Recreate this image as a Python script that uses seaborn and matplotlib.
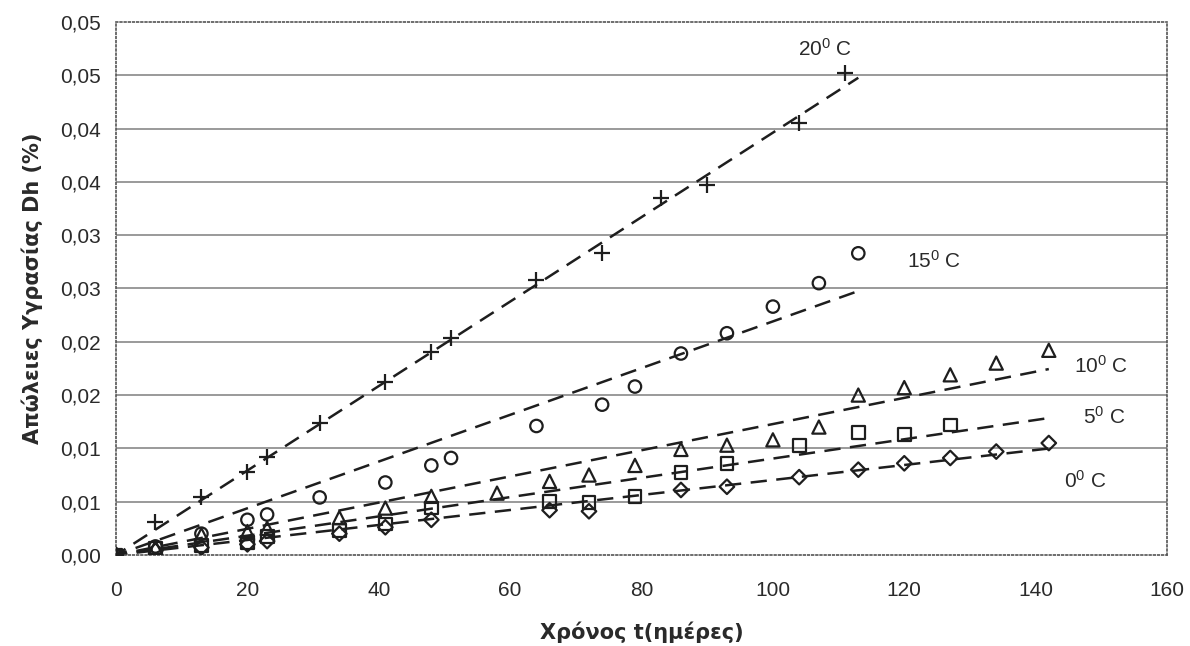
import numpy as np
import pandas as pd
import seaborn as sns
import matplotlib
matplotlib.use("Agg")
import matplotlib.pyplot as plt

# Moisture loss Dh (%) versus storage time, per storage temperature
t_0c = [0, 6, 13, 20, 23, 34, 41, 48, 66, 72, 86, 93, 104, 113, 120, 127, 134, 142]
dh_0c = [0, 0.0004, 0.0007, 0.0010, 0.0013, 0.0020, 0.0026, 0.0033, 0.0042, 0.0041,
         0.0061, 0.0064, 0.0073, 0.0080, 0.0086, 0.0091, 0.0097, 0.0105]

t_5c = [0, 6, 13, 20, 23, 34, 41, 48, 66, 72, 79, 86, 93, 104, 113, 120, 127]
dh_5c = [0, 0.0006, 0.0009, 0.0012, 0.0017, 0.0023, 0.0029, 0.0044, 0.0050, 0.0049,
         0.0055, 0.0077, 0.0086, 0.0103, 0.0115, 0.0113, 0.0122]

t_10c = [0, 6, 13, 20, 23, 34, 41, 48, 58, 66, 72, 79, 86, 93, 100, 107, 113, 120, 127, 134, 142]
dh_10c = [0, 0.0007, 0.0019, 0.0022, 0.0025, 0.0035, 0.0044, 0.0055, 0.0058, 0.0069, 0.0075,
          0.0084, 0.0099, 0.0103, 0.0108, 0.0120, 0.0150, 0.0157, 0.0169, 0.0180, 0.0192]

t_15c = [0, 6, 13, 20, 23, 31, 41, 48, 51, 64, 74, 79, 86, 93, 100, 107, 113]
dh_15c = [0, 0.0008, 0.0020, 0.0033, 0.0038, 0.0054, 0.0068, 0.0084, 0.0091, 0.0121,
          0.0141, 0.0158, 0.0189, 0.0208, 0.0233, 0.0255, 0.0283]

t_20c = [0, 6, 13, 20, 23, 31, 41, 48, 51, 64, 74, 83, 90, 104, 111]
dh_20c = [0, 0.0031, 0.0054, 0.0078, 0.0092, 0.0124, 0.0162, 0.0190, 0.0204, 0.0258,
          0.0283, 0.0335, 0.0347, 0.0405, 0.0452]

series_names = ["0C", "5C", "10C", "15C", "20C"]
series_labels = [r"0$^{0}$ C", r"5$^{0}$ C", r"10$^{0}$ C", r"15$^{0}$ C", r"20$^{0}$ C"]
label_x = [147.5, 150.5, 150.0, 124.5, 108.0]
label_y = [0.0070, 0.0130, 0.0177, 0.0276, 0.0475]
trend_end = [142, 142, 142, 113, 113]

y_ticks = [0.000, 0.005, 0.010, 0.015, 0.020, 0.025, 0.030, 0.035, 0.040, 0.045, 0.050]
y_tick_labels = ["0,00", "0,01", "0,01", "0,02", "0,02", "0,03", "0,03", "0,04", "0,04", "0,05", "0,05"]
x_ticks = [0, 20, 40, 60, 80, 100, 120, 140, 160]

frames = []
for name, t, dh in zip(series_names,
                       [t_0c, t_5c, t_10c, t_15c, t_20c],
                       [dh_0c, dh_5c, dh_10c, dh_15c, dh_20c]):
    frames.append(pd.DataFrame({"t": t, "dh": dh, "series": name}))
df = pd.concat(frames, ignore_index=True)

sns.set_theme(style="white")
plt.rcParams["font.family"] = ["Liberation Sans", "DejaVu Sans"]
plt.rcParams["mathtext.fontset"] = "custom"
plt.rcParams["mathtext.rm"] = "Liberation Sans"
plt.rcParams["mathtext.it"] = "Liberation Sans"

ink = "#1e1e1e"
fig = plt.figure(figsize=(11.9, 6.46), dpi=100)
ax = fig.add_axes([0.0975, 0.1409, 0.8832, 0.8251])

# Horizontal grid
for yv in y_ticks[1:-1]:
    ax.axhline(yv, color="#7f7f7f", lw=1.1, zorder=0)

# Linear trend lines through the origin (least squares)
for name, end in zip(series_names, trend_end):
    sub = df[df["series"] == name]
    slope = float((sub["t"] * sub["dh"]).sum() / (sub["t"] ** 2).sum())
    line_df = pd.DataFrame({"t": [0.0, float(end)], "dh": [0.0, slope * end]})
    sns.lineplot(data=line_df, x="t", y="dh", ax=ax, color=ink, lw=1.8,
                 dashes=False, linestyle=(2, (6.5, 3.8)), zorder=2)

# Measured points
marker_map = {"0C": "D", "5C": "s", "10C": "^", "15C": "o", "20C": "+"}
size_map = {"0C": 55, "5C": 85, "10C": 90, "15C": 80, "20C": 130}
for name in series_names:
    sub = df[df["series"] == name]
    m = marker_map[name]
    if m == "+":
        sns.scatterplot(data=sub, x="t", y="dh", ax=ax, marker="+", s=size_map[name],
                        color=ink, linewidth=1.6, zorder=3)
    else:
        sns.scatterplot(data=sub, x="t", y="dh", ax=ax, marker=m, s=size_map[name],
                        facecolors="none", edgecolor=ink, linewidth=1.6, zorder=3)

# Temperature labels
for lab, lx, ly in zip(series_labels, label_x, label_y):
    ax.text(lx, ly, lab, fontsize=15, color="#2a2a2a", ha="center", va="center")

ax.set_xlim(0, 160)
ax.set_ylim(0, 0.05)
ax.set_xticks(x_ticks)
ax.set_xticklabels([str(v) for v in x_ticks])
ax.set_yticks(y_ticks)
ax.set_yticklabels(y_tick_labels)
ax.tick_params(axis="both", labelsize=15, colors="#2a2a2a", length=5, width=1.0)
ax.tick_params(axis="x", direction="inout", length=6, pad=16)
ax.tick_params(axis="y", direction="out", pad=6)

for side in ["top", "right", "left", "bottom"]:
    ax.spines[side].set_visible(True)
    ax.spines[side].set_linestyle((0, (1, 1.5)))
    ax.spines[side].set_color("#555555")
    ax.spines[side].set_linewidth(1.2)

ax.set_xlabel("Χρόνος t(ημέρες)", fontsize=15, fontweight="bold",
              family=["DejaVu Sans"], color="#2a2a2a", labelpad=15)
ax.set_ylabel("Απώλειες Υγρασίας Dh (%)", fontsize=15, fontweight="bold",
              family=["DejaVu Sans"], color="#2a2a2a", labelpad=12)

fig.savefig("out.png", dpi=100, facecolor="white")
